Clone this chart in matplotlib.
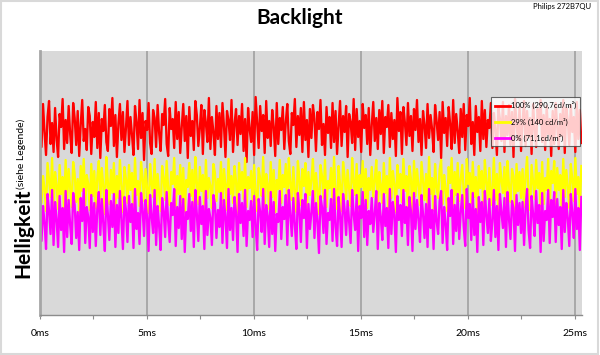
import numpy as np
import matplotlib
matplotlib.use("Agg")
import matplotlib.pyplot as plt
from matplotlib.patches import Rectangle

# --------------------------------------------------------------------------- #
# Daten (Helligkeit in willkürlichen Einheiten)
# --------------------------------------------------------------------------- #
DT_MS = 25.3 / 359          # Abtastintervall in ms

rot_100 = [
    205, 168, 211, 183, 160, 198, 214, 171, 192, 163, 207, 176, 158, 201, 188, 216, 166, 195, 172, 209,
    181, 162, 212, 197, 170, 204, 159, 190, 215, 174, 186, 165, 208, 199, 161, 193, 178, 213, 167, 202,
    157, 196, 184, 210, 173, 164, 206, 189, 217, 169, 200, 158, 191, 211, 175, 203, 163, 187, 214, 170,
    198, 180, 160, 209, 193, 166, 215, 177, 202, 155, 194, 185, 212, 172, 161, 205, 197, 168, 210, 182,
    164, 201, 190, 216, 171, 159, 207, 186, 196, 167, 213, 176, 203, 162, 188, 211, 174, 199, 157, 208,
    179, 194, 165, 214, 200, 169, 187, 210, 161, 205, 192, 173, 217, 166, 198, 183, 160, 209, 176, 202,
    168, 212, 189, 158, 204, 195, 175, 215, 163, 191, 206, 170, 199, 181, 211, 164, 196, 153, 207, 186,
    173, 203, 160, 218, 192, 167, 209, 184, 200, 162, 214, 177, 194, 169, 205, 188, 159, 212, 171, 197,
    185, 208, 166, 193, 211, 174, 161, 202, 190, 216, 168, 199, 180, 207, 163, 213, 175, 195, 158, 206,
    177, 210, 196, 164, 203, 186, 215, 170, 191, 160, 208, 182, 198, 167, 212, 173, 204, 161, 189, 214,
    169, 199, 183, 209, 158, 201, 193, 172, 216, 165, 206, 178, 194, 163, 211, 187, 200, 171, 207, 160,
    190, 213, 174, 197, 166, 205, 181, 214, 162, 198, 188, 210, 168, 202, 176, 195, 159, 217, 184, 203,
    161, 208, 192, 170, 212, 179, 199, 164, 206, 185, 215, 173, 196, 160, 204, 190, 167, 211, 177, 200,
    186, 163, 210, 194, 175, 203, 157, 213, 182, 197, 169, 208, 191, 166, 215, 172, 201, 184, 162, 206,
    178, 211, 165, 200, 189, 217, 171, 193, 160, 209, 183, 198, 164, 214, 176, 205, 168, 195, 187, 212,
    167, 202, 185, 160, 207, 196, 174, 213, 163, 199, 180, 210, 170, 203, 158, 216, 190, 175, 208, 164,
    193, 214, 169, 204, 178, 197, 161, 211, 186, 168, 206, 192, 215, 173, 200, 165, 209, 181, 196, 159,
    204, 171, 212, 188, 166, 201, 179, 215, 162, 207, 194, 170, 210, 183, 198, 163, 213, 176, 205, 172,
]

gelb_29 = [
    148, 112, 139, 126, 104, 152, 135, 118, 157, 109, 143, 130, 106, 150, 121, 138, 103, 155, 115, 146,
    127, 108, 153, 141, 113, 136, 102, 149, 124, 156, 110, 140, 131, 105, 151, 119, 144, 107, 137, 154,
    116, 147, 128, 101, 158, 133, 111, 145, 122, 152, 106, 139, 117, 155, 129, 103, 148, 136, 112, 150,
    125, 142, 105, 157, 120, 134, 109, 153, 138, 114, 146, 127, 102, 151, 132, 118, 156, 107, 141, 123,
    104, 149, 137, 115, 154, 126, 110, 143, 131, 157, 108, 139, 121, 150, 113, 147, 103, 135, 128, 152,
    119, 145, 106, 158, 133, 111, 148, 124, 140, 102, 155, 117, 137, 129, 107, 151, 142, 114, 136, 123,
    153, 110, 146, 130, 105, 156, 121, 139, 112, 149, 134, 101, 152, 125, 143, 116, 157, 108, 138, 127,
    144, 114, 150, 122, 104, 147, 136, 119, 158, 109, 141, 131, 106, 153, 118, 145, 103, 135, 126, 155,
    112, 140, 128, 151, 107, 157, 132, 115, 148, 123, 103, 154, 137, 110, 146, 129, 152, 105, 143, 120,
    136, 156, 113, 142, 124, 101, 150, 139, 117, 155, 108, 134, 127, 147, 111, 158, 121, 106, 149, 130,
    104, 153, 138, 116, 145, 126, 109, 157, 133, 120, 151, 102, 140, 128, 154, 114, 146, 107, 137, 125,
    148, 118, 135, 155, 106, 143, 130, 112, 152, 122, 139, 105, 157, 117, 144, 131, 103, 150, 127, 141,
    113, 156, 124, 139, 108, 149, 136, 102, 154, 119, 146, 129, 110, 153, 134, 115, 141, 106, 158, 121,
    137, 105, 151, 128, 117, 145, 155, 111, 140, 126, 104, 148, 132, 157, 109, 143, 120, 152, 114, 136,
    150, 123, 107, 156, 131, 142, 112, 153, 118, 138, 101, 149, 127, 144, 108, 155, 133, 116, 147, 110,
    126, 157, 115, 141, 103, 152, 135, 122, 148, 106, 154, 130, 113, 146, 139, 104, 151, 124, 143, 117,
    146, 108, 139, 158, 120, 105, 150, 133, 116, 155, 127, 142, 102, 153, 111, 137, 125, 156, 109, 144,
    132, 154, 111, 147, 125, 140, 103, 156, 118, 145, 129, 107, 151, 136, 114, 157, 121, 138, 106, 149,
]

magenta_0 = [
    118, 74, 109, 92, 66, 121, 104, 81, 125, 70, 113, 96, 68, 119, 85, 107, 63, 124, 78, 115,
    90, 71, 122, 110, 77, 103, 65, 117, 94, 126, 72, 108, 98, 67, 120, 83, 112, 69, 106, 123,
    80, 116, 91, 64, 125, 101, 75, 114, 88, 121, 68, 110, 82, 124, 95, 66, 118, 105, 73, 119,
    93, 111, 67, 126, 86, 102, 71, 122, 107, 79, 115, 97, 64, 120, 99, 82, 125, 70, 109, 89,
    65, 117, 104, 78, 123, 94, 73, 112, 100, 126, 69, 108, 87, 119, 76, 116, 63, 103, 96, 121,
    84, 113, 68, 125, 101, 74, 118, 91, 109, 66, 124, 80, 106, 97, 70, 120, 111, 77, 105, 88,
    122, 72, 115, 98, 67, 126, 85, 107, 75, 118, 102, 63, 121, 92, 112, 79, 125, 69, 104, 95,
    114, 78, 119, 89, 65, 116, 103, 83, 126, 71, 110, 99, 68, 123, 81, 113, 64, 101, 93, 124,
    76, 108, 96, 120, 70, 125, 100, 79, 117, 90, 66, 122, 105, 73, 115, 97, 121, 67, 111, 86,
    103, 124, 77, 112, 94, 62, 119, 108, 82, 125, 71, 102, 95, 116, 74, 126, 88, 69, 118, 99,
    68, 121, 106, 80, 114, 93, 72, 125, 101, 85, 120, 64, 109, 97, 123, 78, 115, 70, 104, 91,
    117, 83, 102, 124, 66, 112, 98, 75, 121, 89, 107, 67, 126, 81, 113, 100, 63, 119, 95, 110,
    79, 125, 92, 108, 70, 118, 104, 64, 122, 86, 115, 96, 73, 120, 101, 77, 111, 68, 126, 87,
    105, 66, 119, 94, 81, 114, 124, 72, 108, 91, 65, 117, 99, 125, 71, 110, 84, 121, 76, 103,
    120, 88, 69, 126, 97, 111, 75, 122, 80, 106, 63, 118, 93, 113, 70, 124, 100, 82, 116, 74,
    94, 125, 78, 109, 65, 121, 103, 87, 117, 68, 123, 96, 76, 114, 107, 64, 120, 90, 112, 82,
    113, 70, 106, 126, 85, 67, 119, 101, 79, 124, 92, 110, 63, 122, 74, 104, 95, 125, 72, 115,
    98, 123, 73, 116, 90, 108, 66, 125, 83, 112, 97, 69, 121, 102, 77, 126, 86, 107, 65, 118,
]

labels = ["100% (290,7cd/m²)", "29% (140 cd/m²)", "0% (71,1cd/m²)"]
farben = ["#ff0000", "#ffff00", "#ff00ff"]
x_ticks = [0, 5, 10, 15, 20, 25]
x_ticklabels = ["0ms", "5ms", "10ms", "15ms", "20ms", "25ms"]

# --------------------------------------------------------------------------- #
# Grafik
# --------------------------------------------------------------------------- #
plt.rcParams["font.family"] = ["Lato", "DejaVu Sans"]

fig = plt.figure(figsize=(6.0, 3.55), dpi=100)
ax = fig.add_axes([40 / 600, 40 / 355, 542 / 600, 264 / 355])
ax.set_facecolor("#d9d9d9")

t = np.arange(len(rot_100)) * DT_MS
for serie, farbe, lab in zip([rot_100, gelb_29, magenta_0], farben, labels):
    ax.plot(t, serie, color=farbe, lw=1.65, label=lab)

ax.set_xlim(0, 25.33)
ax.set_ylim(0, 264)
ax.set_yticks([])
ax.set_xticks(x_ticks)
ax.set_xticklabels(x_ticklabels, fontsize=7.5)
ax.set_xticks(np.arange(2.5, 25, 5), minor=True)
ax.tick_params(axis="x", which="both", length=3, width=0.8, color="#8c8c8c",
               pad=7, labelcolor="#000000")
ax.grid(axis="x", which="major", color="#a0a0a0", lw=1.2)
ax.set_axisbelow(True)

for s in ["top", "right"]:
    ax.spines[s].set_visible(False)
ax.spines["left"].set_color("#a6a6a6")
ax.spines["left"].set_linewidth(2)
ax.spines["bottom"].set_color("#8c8c8c")
ax.spines["bottom"].set_linewidth(1)

leg = ax.legend(loc="upper right", bbox_to_anchor=(1.0, 0.83), fontsize=5.5,
                frameon=True, fancybox=False, handlelength=2.0, handletextpad=0.2,
                labelspacing=1.05, borderpad=0.5, borderaxespad=0.2)
leg.get_frame().set_edgecolor("#404040")
leg.get_frame().set_linewidth(0.8)
for ln in leg.get_lines():
    ln.set_linewidth(2)

fig.text(0.5, 1 - 18 / 355, "Backlight", ha="center", va="center",
         fontsize=15, fontweight="bold")
fig.text(591 / 600, 1 - 7 / 355, "Philips 272B7QU", ha="right", va="center",
         fontsize=5.5)
fig.text(23 / 600, (355 - 278) / 355, "Helligkeit", rotation=90, ha="center",
         va="bottom", fontsize=15, fontweight="bold")
fig.text(21.5 / 600, (355 - 189) / 355, "(siehe Legende)", rotation=90,
         ha="center", va="bottom", fontsize=7.5)

fig.patches.append(Rectangle((0.002, 0.003), 0.995, 0.994, transform=fig.transFigure,
                             fill=False, edgecolor="#d9d9d9", lw=1.5))

fig.savefig("out.png", dpi=100)
